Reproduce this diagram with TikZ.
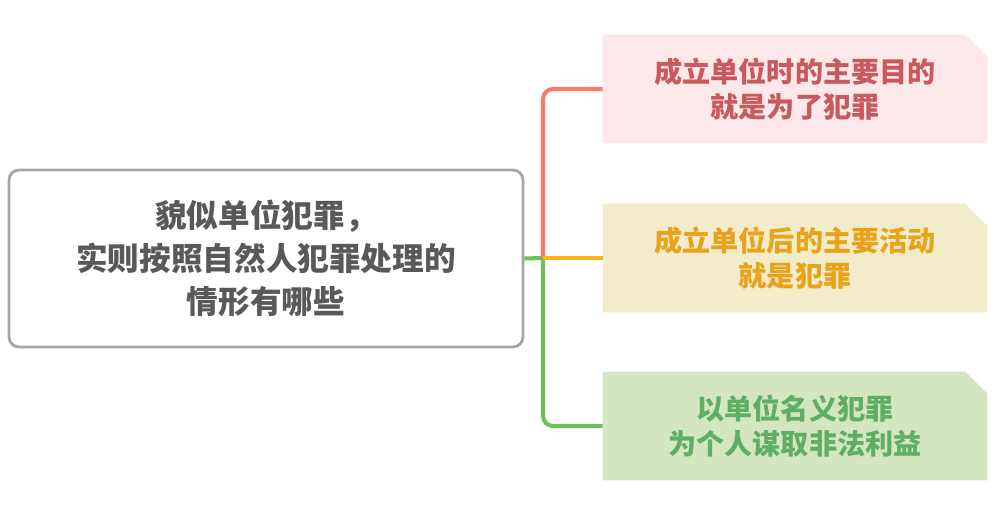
\documentclass[tikz,border=0pt]{standalone}
\usepackage{fontspec}
\newfontfamily\cjk{Noto Sans CJK SC}
\usetikzlibrary{backgrounds}
\definecolor{topicgray}{HTML}{595959}
\definecolor{framegray}{HTML}{A6A6A6}
\definecolor{pinkfill}{HTML}{FDE8E9}
\definecolor{pinktext}{HTML}{C8595D}
\definecolor{sandfill}{HTML}{F3ECCB}
\definecolor{sandtext}{HTML}{E8A31B}
\definecolor{leaffill}{HTML}{D4E6C0}
\definecolor{leaftext}{HTML}{5EAE63}
\definecolor{redline}{HTML}{FA7A64}
\definecolor{orangeline}{HTML}{FBB31A}
\definecolor{greenline}{HTML}{6CBF5A}
\begin{document}
\begin{tikzpicture}[x=0.02cm,y=-0.02cm,
topic/.style ={rectangle, draw=framegray, line width=1.6pt, rounded corners=0.2cm,
  minimum width=10.28cm, minimum height=3.54cm, align=center, text=topicgray,
  font=\cjk\bfseries\fontsize{18}{24.5}\selectfont
},
leaf/.style ={rectangle, minimum width=7.68cm, minimum height=2.16cm, align=center,
  font=\cjk\bfseries\fontsize{16}{20}\selectfont
},
branch/.style ={line width=2.3pt, rounded corners=0.2cm}]
\useasboundingbox (0,0) rectangle (1000,510);
\node (topic) at (266,258.5) [topic] {貌似单位犯罪，\\实则按照自然人犯罪处理的\\情形有哪些};
\node (aim) at (795,89) [leaf, text=pinktext] {成立单位时的主要目的\\就是为了犯罪};
\node (act) at (795,258) [leaf, text=sandtext] {成立单位后的主要活动\\就是犯罪};
\node (gain) at (795,426) [leaf, text=leaftext] {以单位名义犯罪\\为个人谋取非法利益};
\begin{scope}[on background layer]
\foreach \b/\c in {aim/pinkfill, act/sandfill, gain/leaffill}
  \fill[\c] (\b.south west) -- (\b.north west) -- ([xshift=-0.44cm]\b.north east)
    -- ([yshift=-0.44cm]\b.north east) -- (\b.south east) -- cycle;
\end{scope}
\coordinate (fork) at (543,258);
\draw[branch, greenline] (topic.east) -- (fork);
\draw[branch, greenline] (fork) |- (gain.west);
\draw[branch, redline] (fork) |- (aim.west);
\draw[branch, orangeline] (fork) -- (act.west);
\end{tikzpicture}
\end{document}
